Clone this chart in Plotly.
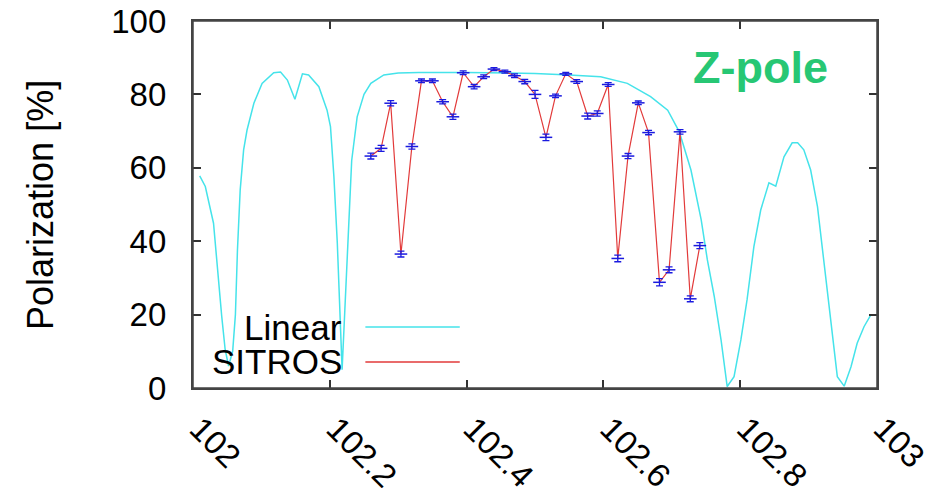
import plotly.graph_objects as go

# Linear (model) polarization curve
linear_x = [102.0098, 102.018, 102.030, 102.033, 102.042, 102.047, 102.052, 102.058, 102.062,
            102.065, 102.069, 102.074, 102.079, 102.089, 102.101, 102.118, 102.128, 102.138,
            102.149, 102.160, 102.169, 102.184, 102.196, 102.201, 102.206, 102.211, 102.216,
            102.218, 102.222, 102.228, 102.232, 102.240, 102.250, 102.260, 102.279, 102.300,
            102.330, 102.400, 102.450, 102.500, 102.550, 102.596, 102.635, 102.669, 102.694,
            102.711, 102.728, 102.743, 102.752, 102.762, 102.772, 102.781, 102.791, 102.801,
            102.810, 102.820, 102.830, 102.842, 102.852, 102.864, 102.876, 102.884, 102.893,
            102.903, 102.913, 102.922, 102.932, 102.942, 102.952, 102.962, 102.971, 102.981,
            102.991]
linear_y = [57.8, 54.9, 44.9, 38.0, 19.5, 10.5, 6.0, 10.0, 20.0,
            37.6, 54.0, 64.9, 70.3, 77.6, 83.0, 85.9, 86.1, 83.9,
            78.7, 85.6, 85.3, 82.1, 75.7, 71.2, 57.6, 39.4, 16.7,
            5.0, 21.3, 48.5, 62.0, 73.9, 80.0, 83.0, 85.3, 85.8,
            86.0, 86.0, 85.9, 85.7, 85.3, 84.8, 83.0, 79.4, 75.7,
            69.8, 59.4, 45.8, 34.9, 25.0, 13.1, 0.4, 3.1, 13.1,
            24.0, 38.5, 48.5, 55.9, 55.0, 63.0, 66.8, 66.8, 64.9,
            59.4, 49.4, 34.9, 19.4, 3.1, 0.5, 5.8, 12.2, 16.7,
            19.9]

# SITROS simulation points
sitros_x = [102.260, 102.275, 102.289, 102.304, 102.320, 102.334, 102.350, 102.365, 102.380,
            102.395, 102.411, 102.425, 102.440, 102.456, 102.470, 102.485, 102.500, 102.516,
            102.530, 102.545, 102.561, 102.577, 102.591, 102.607, 102.621, 102.636, 102.651,
            102.666, 102.682, 102.696, 102.712, 102.727, 102.741]
sitros_y = [63.2, 65.3, 77.6, 36.5, 65.8, 83.7, 83.7, 78.0, 73.9,
            85.9, 82.1, 84.8, 86.9, 86.2, 85.1, 83.5, 80.0, 68.3,
            79.6, 85.6, 83.5, 74.1, 74.8, 82.7, 35.3, 63.2, 77.7,
            69.6, 28.8, 32.2, 69.8, 24.3, 38.8]
sitros_err = [0.8, 0.8, 0.7, 0.8, 0.7, 0.5, 0.5, 0.6, 0.7,
              0.5, 0.6, 0.5, 0.4, 0.4, 0.5, 0.6, 1.1, 0.9,
              0.5, 0.4, 0.5, 0.8, 0.7, 0.5, 0.9, 0.7, 0.5,
              0.6, 1.0, 0.8, 0.6, 0.8, 0.8]

x_ticks = [102, 102.2, 102.4, 102.6, 102.8, 103]
x_ticklabels = ["102", "102.2", "102.4", "102.6", "102.8", "103"]
y_ticks = [0, 20, 40, 60, 80, 100]
y_ticklabels = ["0", "20", "40", "60", "80", "100"]

FONT = "Liberation Sans, Arial, Helvetica, sans-serif"
CYAN = "#45e3ea"
RED = "#e23a3a"
BLUE = "#1a1adf"
FRAME = "#444"

fig = go.Figure()
fig.add_trace(go.Scatter(x=linear_x, y=linear_y, mode="lines", name="Linear",
                         line=dict(color=CYAN, width=1.5), showlegend=False))
fig.add_trace(go.Scatter(x=sitros_x, y=sitros_y, mode="lines", name="SITROS",
                         line=dict(color=RED, width=1.2), showlegend=False))
fig.add_trace(go.Scatter(x=sitros_x, y=sitros_y, mode="markers", showlegend=False,
                         marker=dict(symbol="line-ew", size=9, line=dict(color=BLUE, width=1.5)),
                         error_y=dict(type="data", array=sitros_err, color=BLUE,
                                      thickness=1.3, width=3.5)))

axis_common = dict(showline=True, linecolor=FRAME, linewidth=1.5, mirror="ticks",
                   ticks="inside", ticklen=8, tickwidth=1.5, tickcolor="#333",
                   showgrid=False, zeroline=False, automargin=False,
                   ticklabeloverflow="allow",
                   tickfont=dict(family=FONT, size=33, color="black"))

NBSP = "\u00a0"
fig.update_xaxes(range=[102, 103], tickvals=x_ticks,
                 ticktext=[NBSP + t for t in x_ticklabels],
                 tickangle=45, **axis_common)
fig.update_yaxes(range=[0, 100], tickvals=y_ticks,
                 ticktext=[t + NBSP * 2 for t in y_ticklabels], **axis_common)

# plot frame
fig.add_shape(type="rect", xref="paper", yref="paper", x0=0, x1=1, y0=0, y1=1,
              line=dict(color=FRAME, width=1.5), layer="above")

# y axis title
fig.add_annotation(xref="paper", yref="paper", x=-0.223, y=0.5, text="Polarization [%]",
                   textangle=-90, showarrow=False, xanchor="center", yanchor="middle",
                   font=dict(family=FONT, size=36, color="black"))

# legend (text right-aligned, sample line to the right)
legend_items = [("Linear", CYAN, 0.166), ("SITROS", RED, 0.071)]
for label, col, yp in legend_items:
    fig.add_annotation(xref="paper", yref="paper", x=0.221, y=yp, text=label,
                       showarrow=False, xanchor="right", yanchor="middle",
                       font=dict(family=FONT, size=35, color="black"))
    fig.add_shape(type="line", xref="paper", yref="paper", x0=0.252, x1=0.390, y0=yp, y1=yp,
                  line=dict(color=col, width=1.5))

fig.add_annotation(xref="paper", yref="paper", x=0.830, y=0.872, text="<b>Z-pole</b>",
                   showarrow=False, xanchor="center", yanchor="middle",
                   font=dict(family=FONT, size=45, color="#27c774"))

# page body has an 8px margin, so the figure is sized to fill the rest of the window
fig.update_layout(width=938, height=480, margin=dict(l=185, r=69, t=13, b=100),
                  plot_bgcolor="white", paper_bgcolor="white")

fig.write_html("out.html")
